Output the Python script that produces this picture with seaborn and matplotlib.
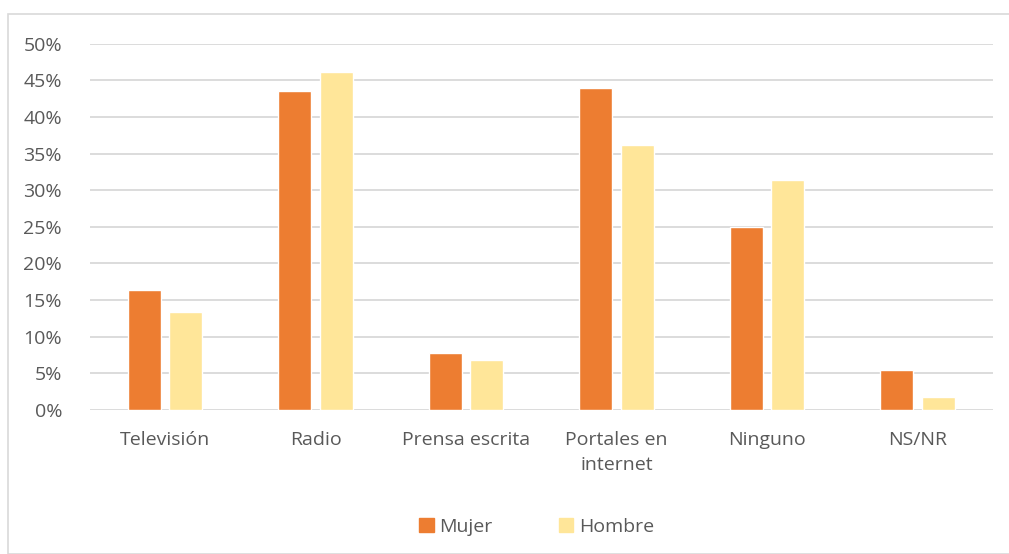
import numpy as np
import pandas as pd
import matplotlib.pyplot as plt
import matplotlib.patches as mpatches
from matplotlib.ticker import PercentFormatter
import seaborn as sns

# datos
categorias = ['Televisión', 'Radio', 'Prensa escrita', 'Portales en\ninternet', 'Ninguno', 'NS/NR']
mujer = [16.4, 43.5, 7.8, 43.9, 25.0, 5.5]
hombre = [13.4, 46.2, 6.8, 36.2, 31.4, 1.8]
series = ['Mujer', 'Hombre']
colores = ['#ED7D31', '#FFE699']

df = pd.DataFrame({
    'categoria': categorias * 2,
    'valor': mujer + hombre,
    'sexo': ['Mujer'] * len(categorias) + ['Hombre'] * len(categorias),
})

sns.set_style('white')
plt.rcParams['font.family'] = ['Open Sans', 'DejaVu Sans']
gris = '#595959'
fs = 14

fig = plt.figure(figsize=(10.09, 5.54), dpi=100)
ax = fig.add_axes([0.089, 0.26, 0.895, 0.661])

sns.barplot(data=df, x='categoria', y='valor', hue='sexo', hue_order=series,
            palette=colores, width=0.55, gap=0.2, saturation=1, ax=ax, zorder=3,
            legend=False)

ax.set_ylim(0, 50)
ax.set_yticks(np.arange(0, 51, 5))
ax.yaxis.set_major_formatter(PercentFormatter(decimals=0))
ax.grid(axis='y', color='#d9d9d9', linewidth=1.3, zorder=0)
ax.set_axisbelow(True)
for s in ax.spines.values():
    s.set_visible(False)
ax.tick_params(axis='both', length=0, labelsize=fs, colors=gris)
ax.tick_params(axis='y', pad=20)
ax.tick_params(axis='x', pad=15)
for t in ax.get_xticklabels():
    t.set_linespacing(1.55)
ax.set_xlabel('')
ax.set_ylabel('')

# marco exterior
fig.patches.append(mpatches.Rectangle((8 / 1009, 0), 1, 1 - 14 / 554, transform=fig.transFigure,
                                      fill=False, edgecolor='#d9d9d9', linewidth=1.2))

handles = [mpatches.Patch(color=c, label=s) for s, c in zip(series, colores)]
fig.legend(handles=handles, loc='center', bbox_to_anchor=(0.532, 1 - 527 / 554), ncol=2,
           frameon=False, fontsize=fs, labelcolor=gris, handlelength=0.75, handleheight=0.75,
           handletextpad=0.3, columnspacing=3.4)

fig.savefig('out.png', dpi=100)
